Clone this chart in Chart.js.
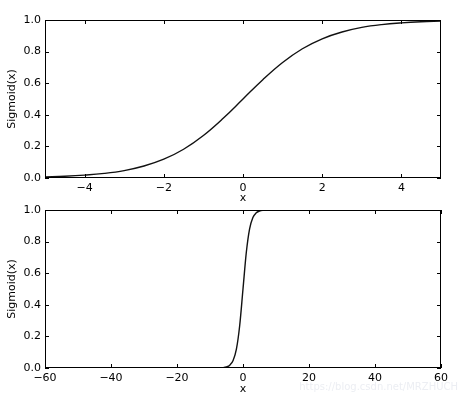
<!DOCTYPE html>
<html>
<head>
<meta charset="utf-8">
<script src="https://cdn.jsdelivr.net/npm/chart.js@4.4.1/dist/chart.umd.min.js"></script>
<style>
  body { margin: 0; background: #fff; width: 462px; height: 401px; position: relative; overflow: hidden; }
  .box { position: absolute; left: 0; width: 462px; }
  #top { top: 0; height: 205px; }
  #bottom { top: 190px; height: 211px; }
  #mark { position: absolute; right: 4px; top: 381px; font: 10px 'DejaVu Sans', sans-serif; color: #eceef3; }
</style>
</head>
<body>
<div class="box" id="top"><canvas id="chartTop"></canvas></div>
<div class="box" id="bottom"><canvas id="chartBottom"></canvas></div>
<div id="mark">https://blog.csdn.net/MRZHUCH</div>
<script>
// values
const xTop = [-5, -4.5, -4, -3.5, -3, -2.5, -2, -1.5, -1, -0.5, 0, 0.5, 1, 1.5, 2, 2.5, 3, 3.5, 4, 4.5, 5];
const yTop = [0.007, 0.011, 0.018, 0.029, 0.047, 0.076, 0.119, 0.182, 0.269, 0.378, 0.5, 0.622, 0.731, 0.818, 0.881, 0.924, 0.953, 0.971, 0.982, 0.989, 0.993];
const xBottom = [-60, -40, -20, -10, -8, -6, -5, -4, -3, -2, -1, 0, 1, 2, 3, 4, 5, 6, 8, 10, 20, 40, 60];
const yBottom = [0, 0, 0, 0, 0.0003, 0.0025, 0.007, 0.018, 0.047, 0.119, 0.269, 0.5, 0.731, 0.881, 0.953, 0.982, 0.993, 0.9975, 0.9997, 1, 1, 1, 1];
const xTicksTop = [-4, -2, 0, 2, 4];
const xTicksBottom = [-60, -40, -20, 0, 20, 40, 60];
const yTicks = [0, 0.2, 0.4, 0.6, 0.8, 1.0];

const FONT = "'DejaVu Sans', sans-serif";

// frame + inward tick marks, matplotlib style
const framePlugin = {
  id: 'frame',
  afterDraw(chart) {
    const { ctx, chartArea: a, scales } = chart;
    ctx.save();
    ctx.strokeStyle = '#000';
    ctx.lineWidth = 1;
    ctx.strokeRect(a.left + 0.5, a.top + 0.5, a.right - a.left - 1, a.bottom - a.top - 1);
    ctx.beginPath();
    for (const t of scales.x.ticks) {
      const px = Math.round(scales.x.getPixelForValue(t.value)) + 0.5;
      ctx.moveTo(px, a.bottom); ctx.lineTo(px, a.bottom - 4);
      ctx.moveTo(px, a.top); ctx.lineTo(px, a.top + 4);
    }
    for (const t of scales.y.ticks) {
      const py = Math.round(scales.y.getPixelForValue(t.value)) + 0.5;
      ctx.moveTo(a.left, py); ctx.lineTo(a.left + 4, py);
      ctx.moveTo(a.right, py); ctx.lineTo(a.right - 4, py);
    }
    ctx.stroke();
    ctx.restore();
  }
};

function makeChart(id, xs, ys, xTicks, xMin, xMax, pad, xAxisHeight, smooth) {
  return new Chart(document.getElementById(id), {
    type: 'line',
    data: {
      datasets: [{
        data: xs.map((x, i) => ({ x: x, y: ys[i] })),
        borderColor: '#111',
        borderWidth: 1.4,
        pointRadius: 0,
        tension: 0.4,
        cubicInterpolationMode: smooth,
        fill: false
      }]
    },
    options: {
      responsive: true,
      maintainAspectRatio: false,
      animation: false,
      layout: { padding: pad },
      plugins: { legend: { display: false }, tooltip: { enabled: false } },
      scales: {
        x: {
          type: 'linear',
          min: xMin,
          max: xMax,
          afterBuildTicks: s => { s.ticks = xTicks.map(v => ({ value: v })); },
          afterFit: s => { s.height = xAxisHeight; },
          grid: { display: false, drawTicks: false },
          border: { display: false },
          ticks: {
            padding: 4,
            maxRotation: 0,
            color: '#000',
            font: { family: FONT, size: 11 },
            callback: v => String(v).replace('-', '\u2212')
          },
          title: { display: true, text: 'x', color: '#000', padding: 0, font: { family: FONT, size: 11 } }
        },
        y: {
          min: 0,
          max: 1,
          afterBuildTicks: s => { s.ticks = yTicks.map(v => ({ value: v })); },
          afterFit: s => { s.width = 45; },
          grid: { display: false, drawTicks: false },
          border: { display: false },
          ticks: {
            padding: 4,
            color: '#000',
            font: { family: FONT, size: 11 },
            callback: v => v.toFixed(1)
          },
          title: { display: true, text: 'Sigmoid(x)', color: '#000', padding: { top: 6, bottom: 0 }, font: { family: FONT, size: 11 } }
        }
      }
    },
    plugins: [framePlugin]
  });
}

makeChart('chartTop', xTop, yTop, xTicksTop, -5, 5, { top: 20, right: 21, left: 0, bottom: 0 }, 27, 'default');
makeChart('chartBottom', xBottom, yBottom, xTicksBottom, -60, 60, { top: 20, right: 21, left: 0, bottom: 5 }, 28, 'monotone');
</script>
</body>
</html>
